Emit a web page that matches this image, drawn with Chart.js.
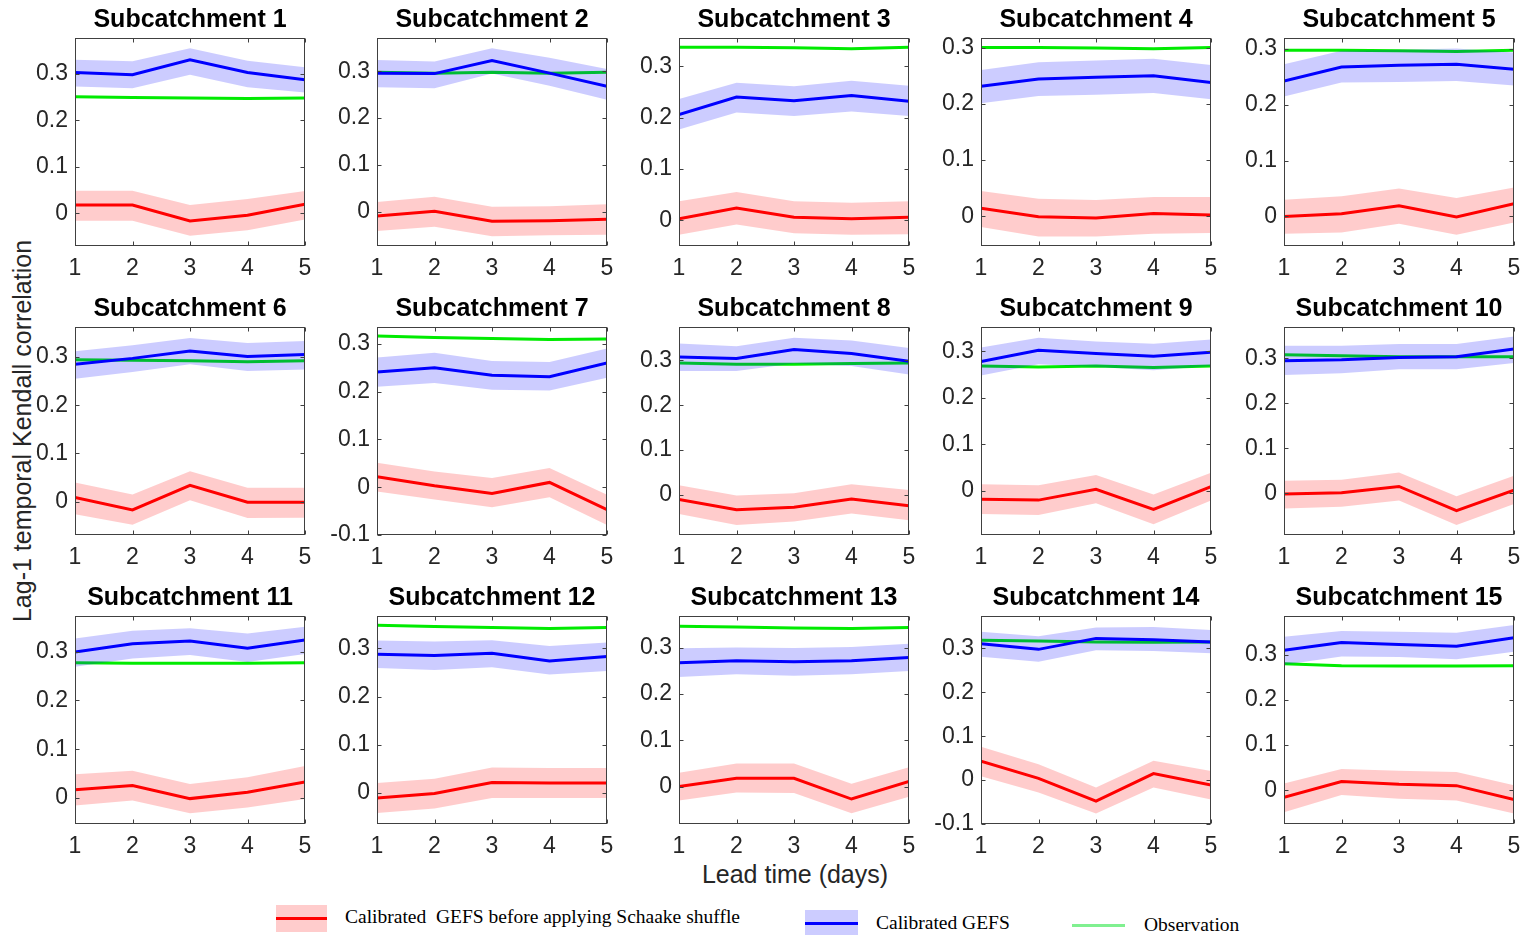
<!DOCTYPE html>
<html><head><meta charset="utf-8">
<script src="https://cdn.jsdelivr.net/npm/chart.js@4.4.1/dist/chart.umd.min.js"></script>
<style>
html,body{margin:0;padding:0;background:#fff;width:1539px;height:935px;overflow:hidden;}
#wrap{position:relative;width:1539px;height:935px;}
canvas{position:absolute;}
.lbl{position:absolute;font-family:"Liberation Sans",Arial,sans-serif;color:#262626;font-size:25px;white-space:nowrap;transform-origin:center;}
.leg{position:absolute;font-family:"Liberation Serif","Times New Roman",serif;color:#000;font-size:19.5px;line-height:24px;white-space:nowrap;}
.sw{position:absolute;}
.sw .ln{position:absolute;left:0;right:0;height:3px;}
</style></head>
<body><div id="wrap">
<div class="lbl" style="left:22px;top:431px;transform:translate(-50%,-50%) rotate(-90deg);">Lag-1 temporal Kendall correlation</div>
<div class="lbl" style="left:795px;top:874px;transform:translate(-50%,-50%);">Lead time (days)</div>
<div class="sw" style="left:276px;top:905px;width:51px;height:27px;background:#ffcccc;"><div class="ln" style="top:12px;background:#ff0000;"></div></div>
<div class="leg" style="left:345px;top:905px;">Calibrated&nbsp; GEFS before applying Schaake shuffle</div>
<div class="sw" style="left:805px;top:910px;width:53px;height:25px;background:#ccccff;"><div class="ln" style="top:12px;background:#0000ff;"></div></div>
<div class="leg" style="left:876px;top:911px;">Calibrated GEFS</div>
<div class="sw" style="left:1072px;top:924px;width:53px;height:3px;background:#80f090;"></div>
<div class="leg" style="left:1144px;top:913px;">Observation</div>
</div>
<script>
const leadTimes = [1, 2, 3, 4, 5];
const panelTitles = ["Subcatchment 1","Subcatchment 2","Subcatchment 3","Subcatchment 4","Subcatchment 5",
  "Subcatchment 6","Subcatchment 7","Subcatchment 8","Subcatchment 9","Subcatchment 10",
  "Subcatchment 11","Subcatchment 12","Subcatchment 13","Subcatchment 14","Subcatchment 15"];
const yTickValues = [-0.1, 0, 0.1, 0.2, 0.3];
const yMin = [-0.07,-0.073,-0.05,-0.053,-0.053, -0.069,-0.1,-0.089,-0.095,-0.093, -0.053,-0.064,-0.081,-0.1,-0.075];
const yMax = [0.377,0.371,0.355,0.317,0.32, 0.362,0.335,0.374,0.352,0.37, 0.373,0.367,0.369,0.374,0.386];

const observation = [
  [0.251,0.249,0.248,0.247,0.248],[0.298,0.296,0.298,0.296,0.298],[0.337,0.337,0.336,0.334,0.337],
  [0.300,0.300,0.299,0.298,0.300],[0.298,0.298,0.297,0.296,0.298],[0.294,0.293,0.292,0.290,0.292],
  [0.316,0.313,0.311,0.309,0.310],[0.294,0.291,0.291,0.293,0.294],[0.268,0.266,0.268,0.265,0.268],
  [0.308,0.306,0.304,0.304,0.304],[0.277,0.276,0.276,0.276,0.277],[0.348,0.345,0.343,0.341,0.343],
  [0.347,0.345,0.343,0.342,0.344],[0.319,0.317,0.315,0.314,0.315],[0.280,0.276,0.275,0.275,0.276]];

const calibratedMean = [
  [0.303,0.298,0.330,0.303,0.287],[0.296,0.295,0.323,0.296,0.268],[0.206,0.240,0.233,0.243,0.232],
  [0.231,0.244,0.247,0.250,0.238],[0.243,0.268,0.271,0.273,0.264],[0.285,0.297,0.312,0.301,0.305],
  [0.241,0.250,0.234,0.231,0.260],[0.307,0.304,0.324,0.315,0.298],[0.278,0.302,0.295,0.289,0.298],
  [0.295,0.297,0.302,0.304,0.321],[0.299,0.316,0.322,0.307,0.324],[0.288,0.285,0.290,0.274,0.283],
  [0.268,0.272,0.270,0.272,0.279],[0.311,0.298,0.323,0.320,0.315],[0.310,0.327,0.323,0.319,0.338]];
const calibratedLower = [
  [0.273,0.269,0.298,0.271,0.260],[0.266,0.264,0.295,0.269,0.239],[0.177,0.210,0.203,0.212,0.203],
  [0.201,0.214,0.216,0.219,0.208],[0.215,0.240,0.241,0.243,0.235],[0.255,0.269,0.285,0.271,0.274],
  [0.210,0.218,0.204,0.202,0.229],[0.276,0.276,0.293,0.287,0.268],[0.248,0.272,0.266,0.259,0.268],
  [0.263,0.267,0.276,0.276,0.290],[0.269,0.286,0.293,0.279,0.295],[0.259,0.255,0.261,0.246,0.253],
  [0.237,0.243,0.240,0.243,0.250],[0.281,0.270,0.296,0.294,0.289],[0.278,0.296,0.295,0.290,0.307]];
const calibratedUpper = [
  [0.330,0.327,0.355,0.328,0.314],[0.324,0.321,0.349,0.329,0.305],[0.236,0.268,0.261,0.272,0.262],
  [0.260,0.274,0.277,0.280,0.269],[0.273,0.297,0.299,0.301,0.294],[0.312,0.324,0.339,0.329,0.333],
  [0.271,0.281,0.264,0.262,0.290],[0.337,0.331,0.350,0.344,0.327],[0.308,0.329,0.321,0.316,0.325],
  [0.328,0.328,0.332,0.332,0.349],[0.327,0.343,0.348,0.337,0.351],[0.316,0.314,0.317,0.305,0.312],
  [0.299,0.301,0.300,0.302,0.309],[0.338,0.328,0.348,0.349,0.342],[0.340,0.353,0.351,0.349,0.366]];

const beforeShuffleMean = [
  [0.018,0.018,-0.016,-0.004,0.020],[-0.009,0.001,-0.020,-0.019,-0.016],[0.003,0.024,0.006,0.003,0.006],
  [0.014,-0.001,-0.003,0.005,0.002],[0.000,0.005,0.019,-0.001,0.023],[0.009,-0.017,0.034,-0.001,-0.001],
  [0.022,0.003,-0.013,0.010,-0.047],[-0.010,-0.033,-0.027,-0.009,-0.024],[-0.018,-0.020,0.003,-0.040,0.009],
  [-0.002,0.001,0.015,-0.039,0.007],[0.017,0.026,-0.001,0.012,0.033],[-0.010,-0.001,0.022,0.021,0.021],
  [0.000,0.018,0.018,-0.027,0.011],[0.043,0.004,-0.048,0.015,-0.011],[-0.016,0.019,0.013,0.010,-0.021]];
const beforeShuffleLower = [
  [-0.016,-0.016,-0.048,-0.036,-0.013],[-0.041,-0.032,-0.052,-0.050,-0.049],[-0.028,-0.008,-0.025,-0.028,-0.027],
  [-0.019,-0.036,-0.036,-0.031,-0.030],[-0.031,-0.029,-0.013,-0.033,-0.011],[-0.026,-0.048,0.003,-0.034,-0.033],
  [-0.009,-0.026,-0.042,-0.021,-0.079],[-0.042,-0.067,-0.059,-0.041,-0.056],[-0.050,-0.052,-0.027,-0.072,-0.021],
  [-0.034,-0.030,-0.016,-0.071,-0.024],[-0.015,-0.005,-0.031,-0.019,-0.002],[-0.041,-0.032,-0.010,-0.010,-0.010],
  [-0.030,-0.013,-0.014,-0.058,-0.022],[0.009,-0.028,-0.076,-0.017,-0.044],[-0.049,-0.011,-0.019,-0.023,-0.052]];
const beforeShuffleUpper = [
  [0.049,0.049,0.018,0.031,0.048],[0.021,0.032,0.011,0.012,0.016],[0.037,0.055,0.037,0.034,0.037],
  [0.045,0.031,0.029,0.034,0.034],[0.030,0.036,0.050,0.033,0.052],[0.040,0.015,0.063,0.029,0.029],
  [0.051,0.033,0.019,0.040,-0.016],[0.022,-0.001,0.004,0.024,0.011],[0.014,0.012,0.034,-0.008,0.039],
  [0.028,0.030,0.046,-0.007,0.039],[0.049,0.056,0.029,0.043,0.066],[0.021,0.030,0.053,0.052,0.052],
  [0.030,0.050,0.050,0.006,0.042],[0.076,0.036,-0.017,0.044,0.021],[0.015,0.047,0.043,0.040,0.011]];

// layout (pixels)
const plotLefts = [75, 377, 679, 981, 1284];
const plotTops = [38, 327, 616];
const PLOT_W = 230, PLOT_H = 208, PAD_L = 70, PAD_T = 38, PAD_R = 22, PAD_B = 40;
const FONT = '"Liberation Sans", Arial, Helvetica, sans-serif';

const framePlugin = {
  id: 'frame',
  afterDatasetsDraw(chart, args, opts) {
    const ctx = chart.ctx, a = chart.chartArea, xs = chart.scales.x, ys = chart.scales.y;
    ctx.save();
    ctx.strokeStyle = '#404040';
    ctx.lineWidth = 1;
    const L = Math.round(a.left) + 0.5, T = Math.round(a.top) + 0.5, R = Math.round(a.right) - 0.5, B = Math.round(a.bottom) - 0.5;
    ctx.strokeRect(L, T, R - L, B - T);
    ctx.beginPath();
    xs.ticks.forEach(t => {
      const px = Math.round(xs.getPixelForValue(t.value)) + 0.5;
      ctx.moveTo(px, B); ctx.lineTo(px, B - 4);
      ctx.moveTo(px, T); ctx.lineTo(px, T + 4);
    });
    ys.ticks.forEach(t => {
      const py = Math.round(ys.getPixelForValue(t.value)) + 0.5;
      ctx.moveTo(L, py); ctx.lineTo(L + 4, py);
      ctx.moveTo(R, py); ctx.lineTo(R - 4, py);
    });
    ctx.stroke();
    ctx.font = 'bold 25px ' + FONT;
    ctx.fillStyle = '#000';
    ctx.textAlign = 'center';
    ctx.textBaseline = 'middle';
    ctx.fillText(opts.title, (a.left + a.right) / 2, a.top - 18);
    ctx.restore();
  }
};

const pts = arr => leadTimes.map((x, i) => ({x: x, y: arr[i]}));
const wrap = document.getElementById('wrap');

for (let p = 0; p < 15; p++) {
  const row = Math.floor(p / 5), col = p % 5;
  const cv = document.createElement('canvas');
  const W = PAD_L + PLOT_W + PAD_R, H = PAD_T + PLOT_H + PAD_B;
  cv.width = W; cv.height = H;
  cv.style.left = (plotLefts[col] - PAD_L) + 'px';
  cv.style.top = (plotTops[row] - PAD_T) + 'px';
  cv.style.width = W + 'px'; cv.style.height = H + 'px';
  wrap.appendChild(cv);
  const none = 'rgba(0,0,0,0)';
  new Chart(cv, {
    type: 'line',
    data: {
      datasets: [
        {label: 'Observation', data: pts(observation[p]), borderColor: 'rgb(0,235,0)', borderWidth: 3, pointRadius: 0, fill: false, order: 60},
        {label: 'rawLo', data: pts(beforeShuffleLower[p]), borderColor: none, borderWidth: 0, pointRadius: 0, fill: false, order: 50},
        {label: 'rawHi', data: pts(beforeShuffleUpper[p]), borderColor: none, borderWidth: 0, pointRadius: 0, fill: {target: 1}, backgroundColor: 'rgba(255,0,0,0.2)', order: 50},
        {label: 'Calibrated GEFS before applying Schaake shuffle', data: pts(beforeShuffleMean[p]), borderColor: '#ff0000', borderWidth: 3, pointRadius: 0, fill: false, order: 40},
        {label: 'calLo', data: pts(calibratedLower[p]), borderColor: none, borderWidth: 0, pointRadius: 0, fill: false, order: 30},
        {label: 'calHi', data: pts(calibratedUpper[p]), borderColor: none, borderWidth: 0, pointRadius: 0, fill: {target: 4}, backgroundColor: 'rgba(0,0,255,0.2)', order: 30},
        {label: 'Calibrated GEFS', data: pts(calibratedMean[p]), borderColor: '#0000ff', borderWidth: 3, pointRadius: 0, fill: false, order: 20}
      ]
    },
    options: {
      responsive: false, animation: false, devicePixelRatio: 1,
      layout: {padding: {top: PAD_T, right: PAD_R, left: 0, bottom: 0}},
      elements: {line: {tension: 0}},
      plugins: {legend: {display: false}, tooltip: {enabled: false}, title: {display: false}, frame: {title: panelTitles[p]}},
      scales: {
        x: {
          type: 'linear', min: 1, max: 5,
          grid: {display: false, drawTicks: false}, border: {display: false},
          ticks: {padding: 9, color: '#262626', font: {size: 23, family: FONT}, maxRotation: 0, autoSkip: false},
          afterBuildTicks: s => { s.ticks = leadTimes.map(v => ({value: v})); },
          afterFit: s => { s.height = PAD_B; }
        },
        y: {
          type: 'linear', min: yMin[p], max: yMax[p],
          grid: {display: false, drawTicks: false}, border: {display: false},
          ticks: {padding: 7, color: '#262626', font: {size: 23, family: FONT}, callback: v => String(Math.round(v * 10) / 10)},
          afterBuildTicks: s => { s.ticks = yTickValues.filter(v => v >= s.min - 1e-9 && v <= s.max + 1e-9).map(v => ({value: v})); },
          afterFit: s => { s.width = PAD_L; }
        }
      }
    },
    plugins: [framePlugin]
  });
}
</script>
</body></html>
